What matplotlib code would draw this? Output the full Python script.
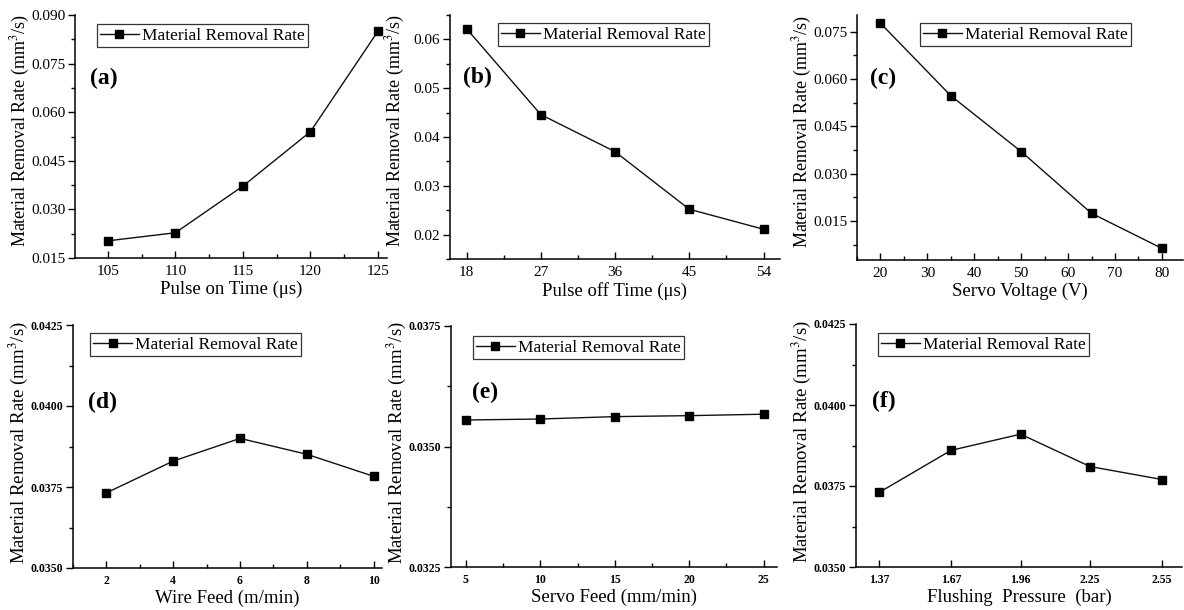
import matplotlib
matplotlib.use("Agg")
import matplotlib.pyplot as plt
from matplotlib.ticker import AutoMinorLocator, FormatStrFormatter, NullLocator

plt.rcParams['font.family'] = ['Liberation Serif', 'DejaVu Serif']
plt.rcParams['mathtext.fontset'] = 'stix'

# ---- data ----
pulse_on = [105, 110, 115, 120, 125]
mrr_pulse_on = [0.0203, 0.0228, 0.0372, 0.0540, 0.0850]

pulse_off = [18, 27, 36, 45, 54]
mrr_pulse_off = [0.0622, 0.0446, 0.0370, 0.0252, 0.0211]

servo_voltage = [20, 35, 50, 65, 80]
mrr_servo_voltage = [0.0777, 0.0547, 0.0370, 0.0174, 0.0063]

wire_feed = [2, 4, 6, 8, 10]
mrr_wire_feed = [0.03732, 0.03830, 0.03900, 0.03851, 0.03783]

servo_feed = [5, 10, 15, 20, 25]
mrr_servo_feed = [0.03555, 0.03557, 0.03562, 0.03564, 0.03567]

flushing = [1.37, 1.67, 1.96, 2.25, 2.55]
mrr_flushing = [0.0373, 0.0386, 0.0391, 0.0381, 0.0377]

W, H = 1184, 610
fig = plt.figure(figsize=(W / 100, H / 100), dpi=100)

def px_axes(l, r, t, b):
    return fig.add_axes([l / W, 1 - b / H, (r - l) / W, (b - t) / H])

panels = [
    dict(box=(75, 387, 15, 258), x=pulse_on, y=mrr_pulse_on, xlabel='Pulse on Time (μs)',
         xlim=(102.56, 125.67), ylim=(0.015, 0.090), ystep=0.015, fmt='%.3f',
         xt=pulse_on, xfmt='%g', tag='(a)', tagpos=(0.048, 0.74), leg=(0.07, 0.963), row=0, xminor=True),
    dict(box=(450, 780, 15, 259), x=pulse_off, y=mrr_pulse_off, xlabel='Pulse off Time (μs)',
         xlim=(16, 56), ylim=(0.015, 0.065), ystep=0.01, fmt='%.2f', yt0=0.02,
         xt=pulse_off, xfmt='%g', tag='(b)', tagpos=(0.04, 0.745), leg=(0.145, 0.967), row=0, xminor=True),
    dict(box=(857, 1183, 15, 260), x=servo_voltage, y=mrr_servo_voltage, xlabel='Servo Voltage (V)',
         xlim=(15, 84.5), ylim=(0.0026, 0.0803), ystep=0.015, fmt='%.3f', yt0=0.015,
         xt=[20, 30, 40, 50, 60, 70, 80], xfmt='%g', tag='(c)', tagpos=(0.04, 0.74), leg=(0.193, 0.967), row=0, xminor=True),
    dict(box=(73, 382, 325, 568), x=wire_feed, y=mrr_wire_feed, xlabel='Wire Feed (m/min)',
         xlim=(1, 10.25), ylim=(0.035, 0.0425), ystep=0.0025, fmt='%.4f',
         xt=wire_feed, xfmt='%g', tag='(d)', tagpos=(0.049, 0.68), leg=(0.055, 0.967), row=1, xminor=True),
    dict(box=(451, 777, 326, 567), x=servo_feed, y=mrr_servo_feed, xlabel='Servo Feed (mm/min)',
         xlim=(4, 25.9), ylim=(0.0325, 0.0375), ystep=0.0025, fmt='%.4f',
         xt=servo_feed, xfmt='%g', tag='(e)', tagpos=(0.064, 0.726), leg=(0.067, 0.958), row=1, xminor=True),
    dict(box=(856, 1182, 324, 567), x=flushing, y=mrr_flushing, xlabel='Flushing  Pressure  (bar)',
         xlim=(1.274, 2.633), ylim=(0.035, 0.0425), ystep=0.0025, fmt='%.4f',
         xt=flushing, xfmt='%.2f', tag='(f)', tagpos=(0.05, 0.68), leg=(0.067, 0.963), row=1, xminor=False),
]

for p in panels:
    ax = px_axes(*p['box'])
    ax.plot(p['x'], p['y'], '-', color='#111111', lw=1.0, marker='s', ms=5.5,
            mfc='black', mec='black', label='Material Removal Rate')
    ax.set_xlim(*p['xlim'])
    ax.set_ylim(*p['ylim'])
    ax.set_xticks(p['xt'])
    ax.xaxis.set_major_formatter(FormatStrFormatter(p['xfmt']))
    y0 = p.get('yt0', p['ylim'][0])
    yt = []
    v = y0
    while v <= p['ylim'][1] + 1e-9:
        yt.append(v)
        v += p['ystep']
    ax.set_yticks(yt)
    ax.yaxis.set_major_formatter(FormatStrFormatter(p['fmt']))
    ax.yaxis.set_minor_locator(AutoMinorLocator(2))
    if p['xminor']:
        ax.xaxis.set_minor_locator(AutoMinorLocator(2))
    else:
        ax.xaxis.set_minor_locator(NullLocator())
    for s in ['top', 'right']:
        ax.spines[s].set_visible(False)
    for s in ['left', 'bottom']:
        ax.spines[s].set_linewidth(1.1)
    ax.tick_params(axis='x', which='major', direction='in', length=5, width=1, pad=5)
    ax.tick_params(axis='x', which='minor', direction='in', length=3, width=1)
    ax.tick_params(axis='y', which='major', direction='out', length=5, width=1, pad=2)
    ax.tick_params(axis='y', which='minor', direction='out', length=3, width=1)
    if p['row'] == 0:
        ax.tick_params(labelsize=11)
        ylab_size, ylab_y = 13, 0.525
    else:
        ax.tick_params(labelsize=8.5)
        for lab in ax.get_xticklabels() + ax.get_yticklabels():
            lab.set_fontweight('bold')
        ylab_size, ylab_y = 13.5, 0.514
    ax.set_xlabel(p['xlabel'], fontsize=13.5, labelpad=2)
    ax.set_ylabel('Material Removal Rate (mm$^3$/s)', fontsize=ylab_size)
    axw = p['box'][1] - p['box'][0]
    ax.yaxis.set_label_coords(-43 / axw, ylab_y)
    ax.text(p['tagpos'][0], p['tagpos'][1], p['tag'], transform=ax.transAxes,
            fontsize=17, fontweight='bold', va='center', ha='left')
    leg = ax.legend(loc='upper left', bbox_to_anchor=p['leg'], fontsize=12.5,
                    frameon=True, fancybox=False, borderpad=0.2, handlelength=2.2,
                    handletextpad=0.2, borderaxespad=0)
    leg.get_frame().set_edgecolor('black')
    leg.get_frame().set_linewidth(0.9)

fig.savefig('out.png', dpi=100, facecolor='white')
